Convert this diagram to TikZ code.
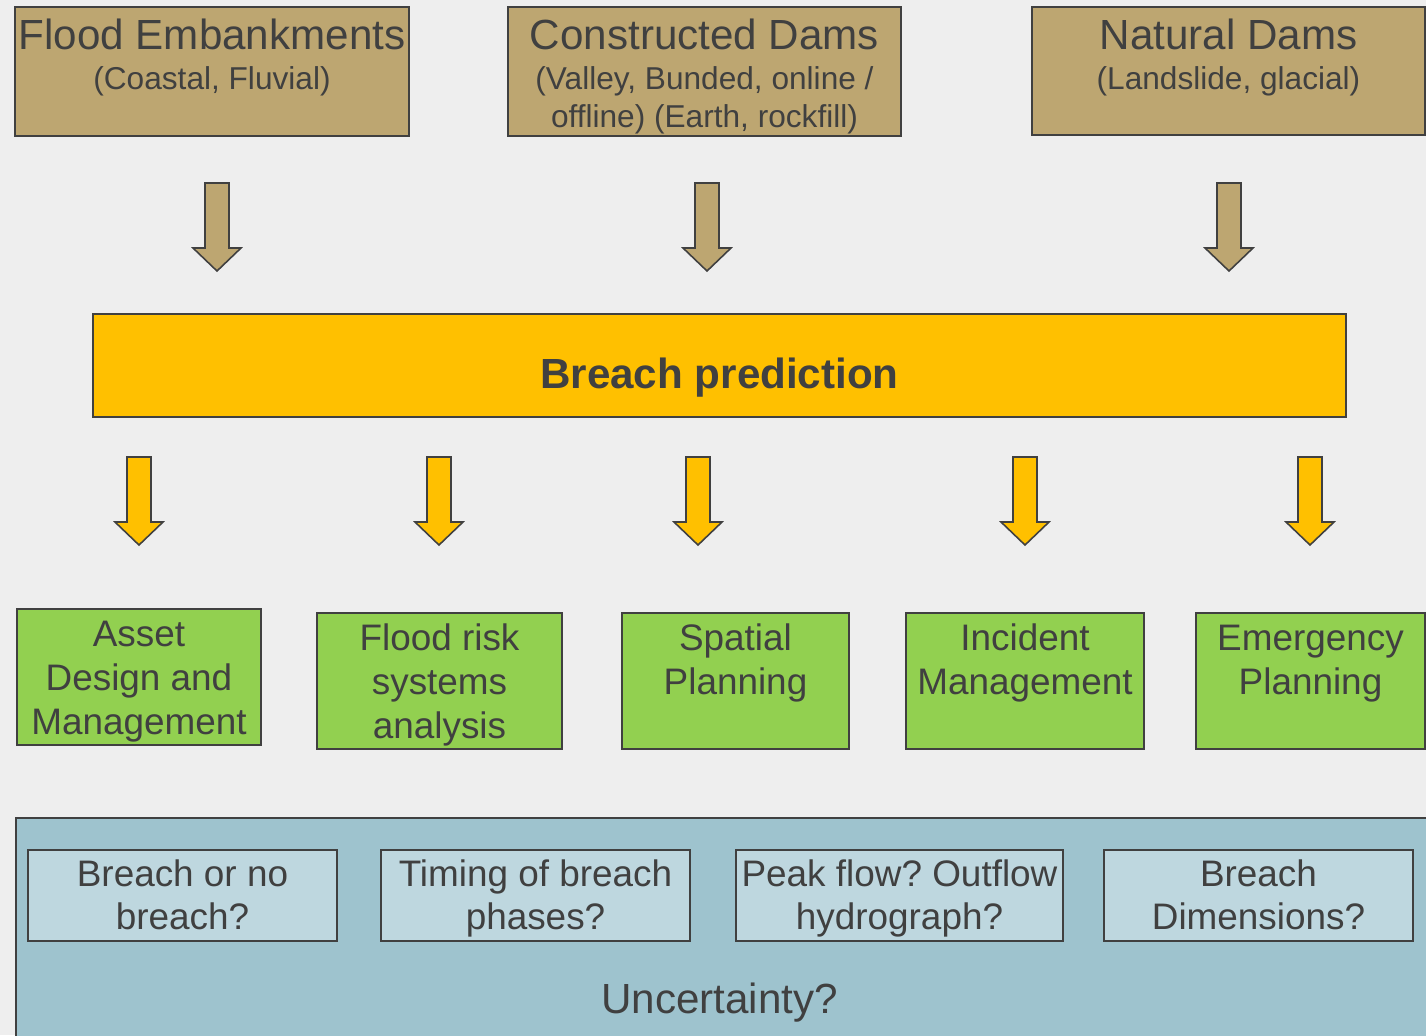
\documentclass[tikz,border=0pt]{standalone}
\usepackage{fontspec}
\setmainfont{Liberation Sans}
\frenchspacing
\definecolor{bggray}{RGB}{238,238,238}
\definecolor{tanfill}{RGB}{189,166,113}
\definecolor{yellowfill}{RGB}{255,192,0}
\definecolor{greenfill}{RGB}{146,208,80}
\definecolor{panelfill}{RGB}{158,195,206}
\definecolor{qfill}{RGB}{190,215,223}
\definecolor{linegray}{RGB}{64,64,64}
\definecolor{textgray}{RGB}{64,64,64}
% text hung from the top of a box: width, height, first baseline, lines
\newcommand{\boxtext}[4]{\parbox[c][#2][t]{#1}{\centering\rule{0pt}{#3}#4}}
\newcommand{\titlefont}{\fontsize{24}{28.8}\selectfont}
\tikzset{%
  % Specifications for style of nodes:
           base/.style = {rectangle, draw=linegray, line width=0.9pt,
                          inner sep=0pt, text=textgray},
      sourcebox/.style = {base, fill=tanfill, font=\fontsize{18}{21.6}\selectfont},
        predbox/.style = {base, fill=yellowfill, font=\fontsize{24}{28.8}\selectfont\bfseries},
         usebox/.style = {base, fill=greenfill, font=\fontsize{21}{25.2}\selectfont},
          panel/.style = {base, fill=panelfill, anchor=north west,
                          minimum width=28.5cm, minimum height=4.6cm},
           qbox/.style = {base, fill=qfill, font=\fontsize{21}{25}\selectfont},
       tanarrow/.style = {fill=tanfill, draw=linegray, line width=0.9pt},
       yelarrow/.style = {fill=yellowfill, draw=linegray, line width=0.9pt},
  pics/downarrow/.style = {code={%
      \path[pic actions] (-12,0) -- (12,0) -- (12,65) -- (24,65) -- (0,88)
                         -- (-24,65) -- (-12,65) -- cycle;}},
}

\begin{document}
\begin{tikzpicture}[x=0.02cm, y=-0.02cm]

  \useasboundingbox (0,0) rectangle (1426,1035);
  \fill[bggray] (0,0) rectangle (1426,1035);
  \clip (0,0) rectangle (1426,1035);

  % Kinds of embankment and dam
  \node (onEmbank) [sourcebox] at (212,71.5)
    {\boxtext{7.88cm}{2.58cm}{0.84cm}{{\titlefont Flood Embankments}\\[0.06cm](Coastal, Fluvial)}};
  \node (onBuilt)  [sourcebox] at (704.5,71.5)
    {\boxtext{7.86cm}{2.58cm}{0.84cm}{{\titlefont Constructed Dams}\\[0.06cm](Valley, Bunded, online /\\offline) (Earth, rockfill)}};
  \node (onNatural) [sourcebox] at (1228.5,71)
    {\boxtext{7.86cm}{2.56cm}{0.84cm}{{\titlefont Natural Dams}\\[0.06cm](Landslide, glacial)}};

  \pic (arEmbank)  [tanarrow] at (217,183)  {downarrow};
  \pic (arBuilt)   [tanarrow] at (707,183)  {downarrow};
  \pic (arNatural) [tanarrow] at (1229,183) {downarrow};

  % Central bar
  \node (onPredict) [predbox] at (719.5,365.5)
    {\boxtext{25.06cm}{2.06cm}{1.48cm}{Breach prediction}};

  \pic (arAsset)    [yelarrow] at (139,457)  {downarrow};
  \pic (arRisk)     [yelarrow] at (439,457)  {downarrow};
  \pic (arSpatial)  [yelarrow] at (698,457)  {downarrow};
  \pic (arIncident) [yelarrow] at (1025,457) {downarrow};
  \pic (arEmerg)    [yelarrow] at (1310,457) {downarrow};

  % Uses of the prediction
  \node (onAsset)    [usebox] at (139,677)
    {\boxtext{4.88cm}{2.72cm}{0.74cm}{Asset\\Design and\\Management}};
  \node (onRisk)     [usebox] at (439.5,681)
    {\boxtext{4.9cm}{2.72cm}{0.74cm}{Flood risk\\systems\\analysis}};
  \node (onSpatial)  [usebox] at (735.5,681)
    {\boxtext{4.54cm}{2.72cm}{0.74cm}{Spatial\\Planning}};
  \node (onIncident) [usebox] at (1025,681)
    {\boxtext{4.76cm}{2.72cm}{0.74cm}{Incident\\Management}};
  \node (onEmerg)    [usebox] at (1310.5,681)
    {\boxtext{4.58cm}{2.72cm}{0.74cm}{Emergency\\Planning}};

  % Open questions
  \node (onPanel) [panel] at (15,817) {};
  \node (onBreachQ) [qbox] at (182.5,895.5)
    {\boxtext{6.18cm}{1.82cm}{0.72cm}{Breach or no\\breach?}};
  \node (onTiming)  [qbox] at (535.5,895.5)
    {\boxtext{6.18cm}{1.82cm}{0.72cm}{Timing of breach\\phases?}};
  \node (onPeak)    [qbox] at (899.5,895.5)
    {\boxtext{6.54cm}{1.82cm}{0.72cm}{Peak flow? Outflow\\hydrograph?}};
  \node (onDims)    [qbox] at (1258.5,895.5)
    {\boxtext{6.18cm}{1.82cm}{0.72cm}{Breach\\Dimensions?}};
  \node (onUncert) [anchor=base, text=textgray, font=\titlefont] at (719.5,1013) {Uncertainty?};

\end{tikzpicture}
\end{document}
